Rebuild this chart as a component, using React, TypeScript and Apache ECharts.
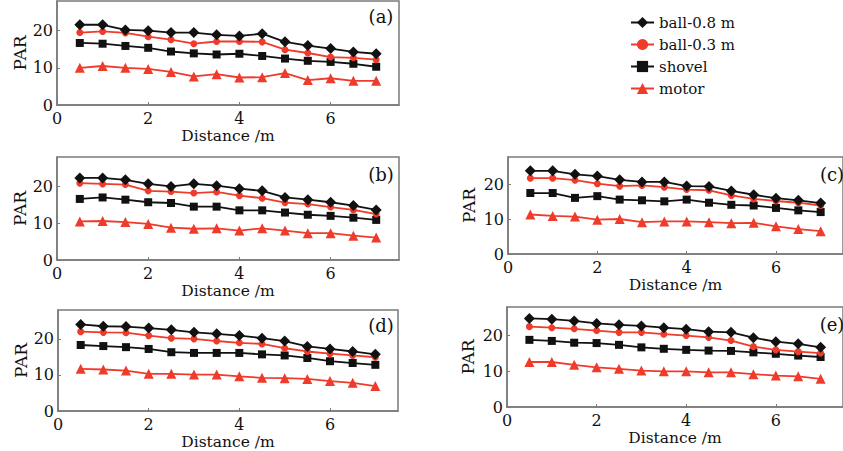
import React, { useEffect, useRef } from "react";
import * as echarts from "echarts";

const distances = [0.5, 1, 1.5, 2, 2.5, 3, 3.5, 4, 4.5, 5, 5.5, 6, 6.5, 7];
const seriesNames = ["ball-0.8 m", "ball-0.3 m", "shovel", "motor"];
const panelLabels = ["(a)", "(b)", "(c)", "(d)", "(e)"];
const xTicks = [0, 2, 4, 6];
const yTicks = [0, 10, 20];

const aBall08 = [21.6, 21.6, 20.2, 20.0, 19.5, 19.5, 18.9, 18.6, 19.2, 17.0, 16.0, 15.2, 14.3, 13.8];
const aBall03 = [19.5, 19.8, 19.4, 18.4, 17.6, 16.5, 17.1, 17.1, 17.0, 14.9, 14.0, 12.9, 12.7, 12.2];
const aShovel = [16.7, 16.5, 15.9, 15.4, 14.4, 13.9, 13.6, 13.8, 13.2, 12.5, 11.9, 11.6, 11.1, 10.3];
const aMotor = [10.0, 10.5, 10.0, 9.7, 8.9, 7.7, 8.3, 7.4, 7.5, 8.6, 6.7, 7.2, 6.5, 6.5];

const bBall08 = [22.3, 22.3, 21.8, 20.7, 20.0, 20.7, 20.2, 19.4, 18.8, 17.0, 16.4, 15.7, 14.8, 13.6];
const bBall03 = [20.9, 20.7, 20.5, 18.8, 18.6, 18.2, 18.5, 17.5, 16.8, 15.6, 15.2, 14.4, 13.6, 12.5];
const bShovel = [16.6, 17.0, 16.4, 15.7, 15.5, 14.5, 14.5, 13.5, 13.5, 12.9, 12.3, 12.0, 11.5, 10.9];
const bMotor = [10.5, 10.6, 10.3, 9.8, 8.8, 8.5, 8.6, 8.0, 8.6, 8.0, 7.3, 7.3, 6.6, 6.1];

const cBall08 = [24.0, 24.0, 23.0, 22.5, 21.4, 20.8, 20.8, 19.6, 19.5, 18.2, 17.1, 16.1, 15.5, 14.7];
const cBall03 = [21.9, 21.9, 21.3, 20.3, 19.6, 19.8, 19.3, 18.6, 18.4, 16.9, 15.9, 15.3, 14.8, 14.0];
const cShovel = [17.6, 17.6, 16.2, 16.7, 15.7, 15.5, 15.2, 15.7, 14.8, 14.2, 14.0, 13.3, 12.6, 12.1];
const cMotor = [11.4, 11.0, 10.8, 9.9, 10.1, 9.2, 9.4, 9.4, 9.2, 8.9, 9.0, 8.0, 7.2, 6.6];

const dBall08 = [24.0, 23.5, 23.4, 23.0, 22.5, 21.8, 21.4, 20.9, 20.2, 19.4, 17.9, 17.2, 16.5, 15.7];
const dBall03 = [22.0, 21.8, 21.7, 20.9, 20.2, 20.0, 19.4, 18.9, 18.6, 17.4, 16.5, 15.9, 15.4, 14.9];
const dShovel = [18.3, 18.0, 17.7, 17.2, 16.3, 16.1, 16.1, 16.1, 15.7, 15.4, 14.7, 13.8, 13.3, 12.8];
const dMotor = [11.7, 11.5, 11.2, 10.3, 10.3, 10.1, 10.1, 9.6, 9.2, 9.1, 8.9, 8.3, 7.8, 6.9];

const eBall08 = [24.8, 24.6, 24.1, 23.4, 23.0, 22.7, 22.2, 21.8, 21.1, 20.9, 19.4, 18.3, 17.7, 16.7];
const eBall03 = [22.5, 22.2, 21.9, 21.4, 20.9, 20.9, 20.4, 20.0, 19.5, 18.6, 16.9, 16.0, 15.5, 15.1];
const eShovel = [18.8, 18.5, 18.0, 17.9, 17.4, 16.7, 16.3, 16.0, 15.8, 15.7, 15.3, 14.9, 14.4, 14.0];
const eMotor = [12.6, 12.6, 11.8, 11.1, 10.7, 10.2, 10.0, 10.0, 9.7, 9.7, 9.2, 8.8, 8.6, 7.9];

const panelData = [
  [aBall08, aBall03, aShovel, aMotor],
  [bBall08, bBall03, bShovel, bMotor],
  [cBall08, cBall03, cShovel, cMotor],
  [dBall08, dBall03, dShovel, dMotor],
  [eBall08, eBall03, eShovel, eMotor],
];

const FONT = "DejaVu Serif";
const RED = "#f03a2a";
const BLACK = "#111111";
const FRAME = "#7a7a7a";
const TEXT = "#111111";

const grids = [
  { left: 57, top: 1, width: 342, height: 104 },
  { left: 57, top: 157, width: 342, height: 103 },
  { left: 508, top: 157, width: 340, height: 97 },
  { left: 58, top: 310, width: 340, height: 101 },
  { left: 507, top: 307, width: 341, height: 100 },
];

const labelPos = [
  [381, 16],
  [381, 174],
  [832, 174],
  [381, 325],
  [832, 324],
];

const seriesStyle = [
  { color: BLACK, symbol: "diamond", size: 11 },
  { color: RED, symbol: "circle", size: 7 },
  { color: BLACK, symbol: "rect", size: 8 },
  { color: RED, symbol: "triangle", size: 10 },
];

export default function App() {
  const ref = useRef<HTMLDivElement>(null);
  useEffect(() => {
    if (!ref.current) return;
    const chart = echarts.init(ref.current, null, { renderer: "svg" });
    const xAxis = grids.map((_, i) => ({
      type: "value",
      gridIndex: i,
      min: 0,
      max: 7.5,
      interval: 2,
      name: "Distance /m",
      nameLocation: "middle",
      nameGap: 23,
      nameTextStyle: { fontFamily: FONT, fontSize: 15.5, color: TEXT },
      axisLine: { show: true, lineStyle: { color: FRAME, width: 1.5 } },
      axisTick: { show: true, inside: true, length: 3, lineStyle: { color: FRAME } },
      splitLine: { show: false },
      axisLabel: {
        showMaxLabel: false,
        margin: 5,
        fontFamily: FONT,
        fontSize: 16,
        color: TEXT,
        formatter: (v: number) => (xTicks.includes(v) ? String(v) : ""),
      },
    }));
    const yAxis = grids.map((_, i) => ({
      type: "value",
      gridIndex: i,
      min: 0,
      max: 28,
      interval: 10,
      name: "PAR",
      nameLocation: "middle",
      nameGap: i === 2 || i === 4 ? 31 : 27,
      nameRotate: 90,
      nameTextStyle: { fontFamily: FONT, fontSize: 17, color: TEXT },
      axisLine: { show: true, lineStyle: { color: FRAME, width: 1.5 } },
      axisTick: { show: true, inside: true, length: 3, lineStyle: { color: FRAME } },
      splitLine: { show: false },
      axisLabel: {
        showMaxLabel: false,
        margin: 4,
        fontFamily: FONT,
        fontSize: 16,
        color: TEXT,
        formatter: (v: number) => (yTicks.includes(v) ? String(v) : ""),
      },
    }));
    const series: any[] = [];
    panelData.forEach((panel, pi) => {
      panel.forEach((vals, si) => {
        const st = seriesStyle[si];
        series.push({
          type: "line",
          name: seriesNames[si],
          xAxisIndex: pi,
          yAxisIndex: pi,
          data: distances.map((d, k) => [d, vals[k]]),
          symbol: st.symbol,
          symbolSize: st.size,
          showSymbol: true,
          color: st.color,
          lineStyle: { color: st.color, width: 1.8 },
          itemStyle: { color: st.color },
          z: 4 - si,
        });
      });
    });
    chart.setOption({
      animation: false,
      backgroundColor: "#ffffff",
      grid: grids.map((g) => ({
        ...g,
        show: true,
        borderColor: FRAME,
        borderWidth: 1.5,
        backgroundColor: "transparent",
        containLabel: false,
      })),
      xAxis,
      yAxis,
      legend: {
        orient: "vertical",
        left: 625,
        top: 10,
        itemWidth: 23,
        itemHeight: 14,
        itemGap: 7,
        data: seriesNames,
        textStyle: { fontFamily: FONT, fontSize: 15, color: TEXT },
      },
      graphic: panelLabels.map((t, i) => ({
        type: "text",
        x: labelPos[i][0],
        y: labelPos[i][1],
        style: {
          text: t,
          fontFamily: FONT,
          fontSize: 18,
          fill: TEXT,
          align: "center",
          verticalAlign: "middle",
        },
        z: 10,
      })),
      series,
    });
    return () => chart.dispose();
  }, []);
  return (
    <div
      ref={ref}
      style={{ position: "absolute", left: 0, top: 0, width: 843, height: 451 }}
    />
  );
}
